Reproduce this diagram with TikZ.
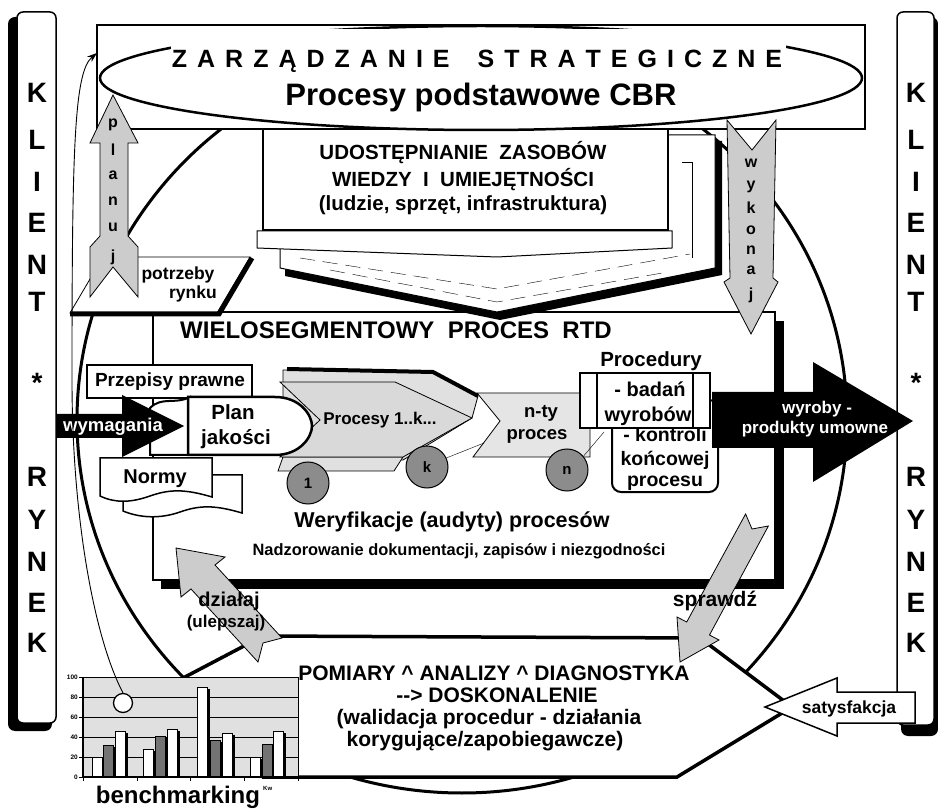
\documentclass[tikz,border=0pt]{standalone}
\usepackage{fontspec}
\setmainfont{Liberation Sans}
\usetikzlibrary{arrows.meta}
\newcommand\fsz[1]{\fontsize{#1}{#1}\selectfont\bfseries}

\begin{document}
\begin{tikzpicture}[x=1pt,y=-1pt,
    lbl/.style={inner sep=0pt,font=\fsz{#1}},
    lbl/.default=18,
    box/.style={draw,fill=white,line width=1.5pt},
    grayarr/.style={draw,fill=black!20,line width=0.8pt},
    procdot/.style={circle,draw,fill=black!45,line width=1pt,minimum size=42pt,lbl=15}]
    \useasboundingbox (0,0) rectangle (938,810);
    \draw[line width=3pt] (462,420) ellipse [x radius=385,y radius=373];
    % klient * rynek
    \fill[rounded corners=7pt] (8,17) rectangle (52,731);
    \draw[box,rounded corners=6pt] (17,12) rectangle (56,723);
    \fill[rounded corners=7pt] (901,17) rectangle (938,736);
    \draw[box,rounded corners=6pt] (897,12) rectangle (934,725);
    \foreach \ch/\yy [count=\i] in {K/93,L/140,I/182,E/223,N/265,T/302,*/383,R/477,Y/520,N/562,E/603,K/643}{
      \node[lbl=28] (kl\i) at (37,\yy) {\ch};
      \node[lbl=28] (kr\i) at (916,\yy) {\ch};
    }
    % frame
    \fill (161,321) rectangle (784,589);
    \draw[box,line width=2pt] (153,312) rectangle (775,580);
    % zasoby
    \fill (285,141) -- (722,141) -- (722,275) -- (500,320) -- (285,276) -- cycle;
    \draw[box,line width=1pt] (280,135) -- (715,135) -- (715,268) -- (497,312) -- (280,268) -- cycle;
    \draw[dash pattern=on 15pt off 8pt] (300,258) -- (497,289) -- (690,254);
    \draw[dash pattern=on 15pt off 8pt] (330,270) -- (497,302) -- (668,272);
    \draw (682,162) -- (692,162) -- (692,258);
    \draw[box,line width=1pt] (257,231) -- (672,231) -- (672,248) -- (497,257) -- (257,248) -- cycle;
    \draw[box] (263,125) rectangle (668,230);
    \node[lbl=20.5,anchor=base] (zas1) at (463,160) {UDOSTĘPNIANIE\ \ ZASOBÓW};
    \node[lbl=20.5,anchor=base] (zas2) at (463,187) {WIEDZY\ \ I\ \ UMIEJĘTNOŚCI};
    \node[lbl=20.5,anchor=base] (zas3) at (463,211) {(ludzie, sprzęt, infrastruktura)};
    % top
    \draw[line width=2pt,fill=white] (97,25) rectangle (865,129);
    \draw[line width=2.5pt,fill=white] (481,78) ellipse [x radius=381,y radius=52];
    \fill[white] (171,29) rectangle (786,73);
    \node[lbl=25,anchor=base] (zarz) at (477,68) {\spaceskip=10pt\relax Z A R Z Ą D Z A N I E\hspace{18pt} S T R A T E G I C Z N E};
    \node[lbl=31,anchor=base] (cbr) at (481,106) {Procesy podstawowe CBR};
    % potrzeby rynku
    \draw[box,line width=0.8pt] (103,257) -- (250,257) -- (217,313) -- (70,313) -- cycle;
    \draw[line width=5pt] (252,258) -- (219,314) -- (70,314);
    \node[lbl=17.5,anchor=base] (potrz) at (178,280) {potrzeby};
    \node[lbl=17.5,anchor=base] (rynku) at (193,299) {rynku};
    % planuj
    \draw[grayarr] (113,95) -- (138,143) -- (128,143) -- (128,236) -- (138,247) -- (138,297) -- (113,267) -- (90,297) -- (90,247) -- (100,236) -- (100,143) -- (90,143) -- cycle;
    \foreach \ch/\yy [count=\i] in {p/125,l/150,a/175,n/201,u/227,j/257}
      \node[lbl=16] (pl\i) at (113,\yy) {\ch};
    % wykonaj
    \draw[grayarr] (727,120) -- (752,150) -- (776,120) -- (773,278) -- (778,282) -- (751,334) -- (724,282) -- (730,278) -- cycle;
    \foreach \ch/\yy [count=\i] in {w/163,y/187,k/208,o/230,n/250,a/270,j/295}
      \node[lbl=16] (wk\i) at (751,\yy) {\ch};
    % proces rtd
    \node[lbl=24,anchor=base west] (rtd) at (180,339) {WIELOSEGMENTOWY\ \ PROCES\ \ RTD};
    \draw[grayarr,fill=black!12] (283,370) -- (433,372) -- (478,396) -- (472,418) -- (403,460) -- (283,460) -- cycle;
    \draw[line width=4pt] (287,369) -- (433,372) -- (478,396);
    \draw[grayarr,fill=black!12] (283,457) -- (403,457) -- (394,471) -- (278,471) -- cycle;
    \draw[grayarr,fill=black!15] (280,382) -- (395,382) -- (472,418) -- (403,457) -- (280,457) -- (320,420) -- cycle;
    \draw[grayarr,fill=black!10] (477,393) -- (590,393) -- (590,457) -- (473,457) -- (500,421) -- cycle;
    \node[lbl=17,anchor=base] (proc1k) at (380,425) {Procesy 1..k...};
    \node[lbl=18.5,anchor=base] (nty1) at (541,418) {n-ty};
    \node[lbl=18.5,anchor=base] (nty2) at (537,440) {proces};
    \draw[box] (87,365) rectangle (252,398);
    \node[lbl=19,anchor=base] (przep) at (170,387) {Przepisy prawne};
    \draw[box,line width=2pt] (150,408) .. controls (162,396) and (175,405) .. (190,397) -- (190,455) -- (150,455) -- cycle;
    \fill (57,414) -- (122,414) -- (122,395) -- (184,426) -- (122,457) -- (122,438) -- (57,438) -- cycle;
    \node[lbl=18.5,anchor=base,text=white] (wym) at (113,432) {wymagania};
    \draw[box,line width=2.5pt] (188,397) -- (275,397) .. controls (300,397) and (312,415) .. (312,426) .. controls (312,437) and (300,455) .. (275,455) -- (188,455) -- cycle;
    \node[lbl=20.5,anchor=base] (plan) at (233,420) {Plan};
    \node[lbl=20.5,anchor=base] (jak) at (236,445) {jakości};
    \draw[box] (123,475) -- (242,475) -- (242,513) .. controls (215,505) and (200,505) .. (180,512) .. controls (160,519) and (140,518) .. (123,511) -- cycle;
    \draw[box] (100,458) -- (212,458) -- (212,497) .. controls (185,489) and (170,489) .. (150,496) .. controls (130,503) and (115,503) .. (100,496) -- cycle;
    \node[lbl=20,anchor=base] (normy) at (155,483) {Normy};
    \coordinate (ntyin) at (484,443);
    \coordinate (bdn) at (604,432);
    \node[procdot] (c1) at (308,483) {1};
    \node[procdot] (ck) at (427,467) {k};
    \node[procdot] (cn) at (567,470) {n};
    \draw (ck.25) -- (ntyin);
    \draw (cn.40) -- (bdn);
    % procedury
    \node[lbl=20.5,anchor=base] (procd) at (651,367) {Procedury};
    \draw[box,line width=2pt,rounded corners=9pt] (612,400) rectangle (718,492);
    \node[lbl=19.5,anchor=base] (kon1) at (665,442) {- kontroli};
    \node[lbl=19.5,anchor=base] (kon2) at (665,466) {końcowej};
    \node[lbl=19.5,anchor=base] (kon3) at (665,486) {procesu};
    \draw[box,line width=2.5pt] (580,373) rectangle (710,428);
    \draw[line width=1.5pt] (597,373) -- (597,428) (693,373) -- (693,428);
    \node[lbl=20,anchor=base] (bad1) at (650,397) {- badań};
    \node[lbl=20,anchor=base] (bad2) at (648,422) {wyrobów};
    \fill (712,392) -- (813,392) -- (813,362) -- (913,421) -- (813,482) -- (813,448) -- (712,448) -- cycle;
    \node[lbl=17,anchor=base,text=white] (wyr1) at (817,414) {wyroby -};
    \node[lbl=17,anchor=base,text=white] (wyr2) at (815,434) {produkty umowne};
    \node[lbl=21.5,anchor=base] (wer) at (452,527) {Weryfikacje (audyty) procesów};
    \node[lbl=16.4,anchor=base] (nadz) at (459,555) {Nadzorowanie dokumentacji, zapisów i niezgodności};
    % pomiary
    \draw[box,line width=3.5pt] (185,677) -- (263,636) -- (700,638) -- (792,707) -- (677,777) -- (263,777) -- cycle;
    \node[lbl=21,anchor=base] (pd1) at (494,680) {POMIARY \textasciicircum{} ANALIZY \textasciicircum{} DIAGNOSTYKA};
    \node[lbl=21,anchor=base] (pd2) at (497,702) {{-}{-}> DOSKONALENIE};
    \node[lbl=21,anchor=base] (pd3) at (489,724) {(walidacja procedur - działania};
    \node[lbl=21,anchor=base] (pd4) at (485,746) {korygujące/zapobiegawcze)};
    \draw[grayarr] (176,548) -- (225,557) -- (215,565) -- (282,638) -- (263,643) -- (258,662) -- (191,589) -- (181,597) -- cycle;
    \node[lbl=20,anchor=base] (dz1) at (229,606) {działaj};
    \node[lbl=17,anchor=base] (dz2) at (226,627) {(ulepszaj)};
    \draw[grayarr] (680,662) -- (719,640) -- (709.5,635) -- (768.4,526) -- (752,529) -- (745.6,514) -- (686.7,622) -- (677,617) -- cycle;
    \node[lbl=21,anchor=base] (spr) at (715,606) {sprawdź};
    \draw[box] (765,707) -- (837,678) -- (837,692) -- (915,692) -- (915,723) -- (837,723) -- (837,736) -- cycle;
    \node[lbl=17.5,anchor=base] (sat) at (849,713) {satysfakcja};
    % benchmarking
    \fill[black!12] (83,677) rectangle (298,777);
    \draw (83,677) rectangle (298,777);
    \foreach \v in {20,40,...,80}
      \draw (83,{777-\v}) -- (298,{777-\v});
    \foreach \v in {0,20,...,100}{
      \draw (79,{777-\v}) -- (83,{777-\v});
      \node[lbl=6.5,anchor=east] (yt\v) at (78,{777-\v}) {\v};
    }
    \foreach \x in {83,137,190,244,298}
      \draw (\x,777) -- (\x,781);
    \foreach \bx/\bv/\bc in {92/20/white,103/32/black!55,115/46/white,143/28/white,155/41/black!55,167/48/white,197/90/white,210/37/black!55,222/44/white,250/20/white,262/33/black!55,273/46/white}{
      \fill ({\bx+3},{779-\bv}) rectangle ({\bx+13},777);
      \draw[fill=\bc,line width=0.8pt] (\bx,{777-\bv}) rectangle ({\bx+10},777);
    }
    \draw[line width=1.2pt] (83,677) -- (83,777) -- (298,777);
    \node[circle,draw,fill=white,line width=1.3pt,minimum size=19pt,inner sep=0pt] (mark) at (123,703) {};
    \node[lbl=24,anchor=base] (bench) at (178,803) {benchmarking};
    \node[lbl=6,anchor=base west] (kw) at (263,790) {Kw};
    \coordinate (topl) at (97,53);
    \draw[line width=0.9pt,-{Stealth[length=10pt,width=7pt]}] (mark.north) .. controls (95,640) and (72,520) .. (72,380) .. controls (72,150) and (74,72) .. (topl);
\end{tikzpicture}
\end{document}
